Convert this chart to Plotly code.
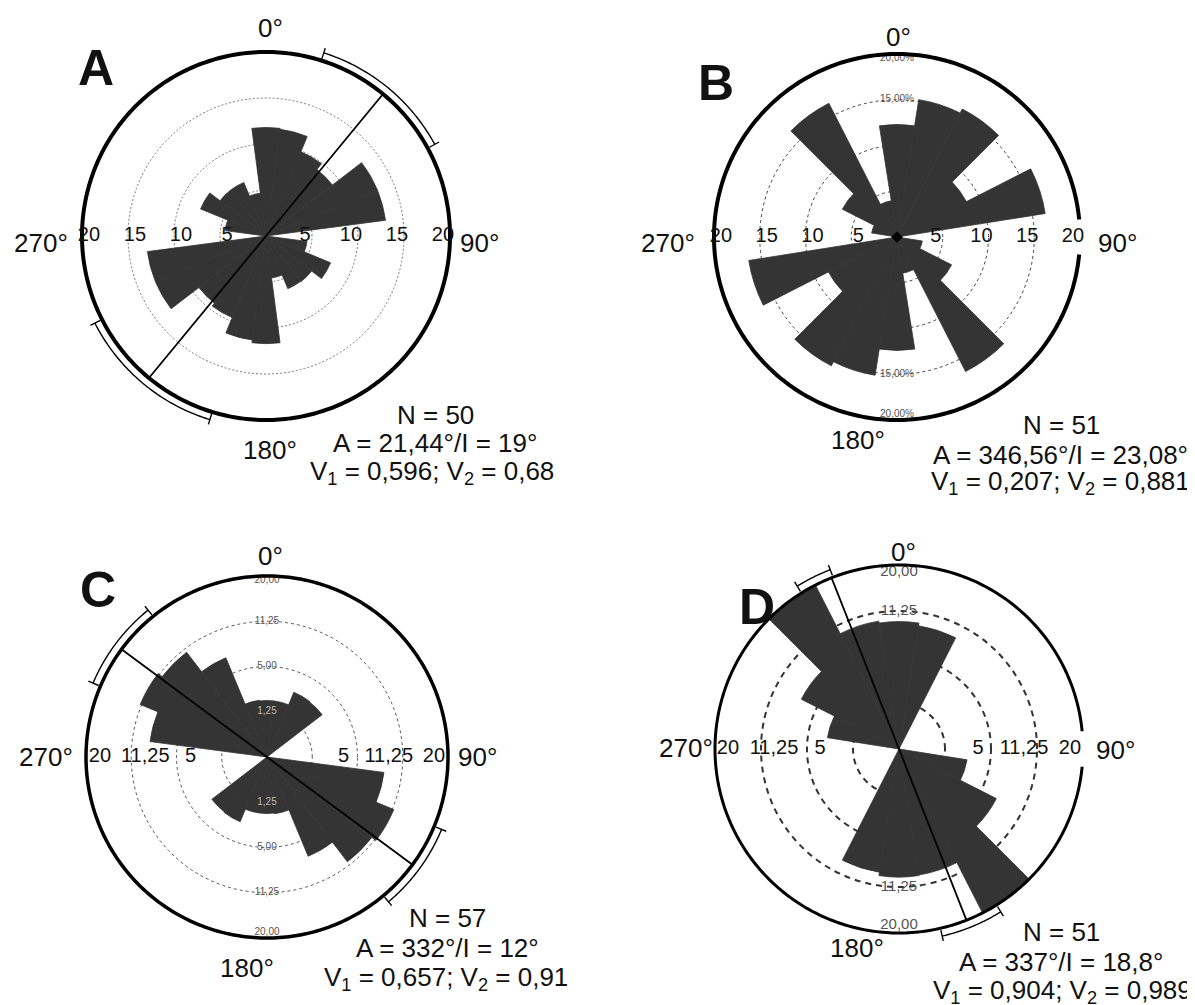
import numpy as np
import plotly.graph_objects as go

W, H = 1195, 1005          # screenshot size
OFF = 8                    # default page margin in front of the figure
FIG_W, FIG_H = W - OFF, H - OFF
FONT = "Liberation Sans, Arial, Helvetica, sans-serif"
BAR_COLOR = "#343434"

# ---------------- data ----------------
# Panel A : 15° classes, linear radial scale (%)
A_theta = [0, 15, 30, 45, 60, 75, 90, 105, 120, 135, 150, 165,
           180, 195, 210, 225, 240, 255, 270, 285, 300, 315, 330, 345]
A_r = [11.8, 11.7, 9.9, 9.1, 13.1, 13.1, 0.0, 4.5, 7.6, 6.25, 6.2, 4.6,
       11.7, 11.4, 9.6, 9.2, 13.0, 13.0, 0.0, 4.5, 7.7, 6.3, 6.3, 4.7]
A_width = 15
A_axis = 39.5
A_arcs = [(17.5, 61.5), (197.0, 243.0)]
A_rings = [5, 10, 15]
A_hticks = [5, 10, 15, 20]
A_htext = ["5", "10", "15", "20"]
A_stats = ["N = 50", "A = 21,44°/I = 19°",
           "V<sub>1</sub> = 0,596; V<sub>2</sub> = 0,68"]

# Panel B : 18° classes, linear radial scale (%)
B_theta = [0, 18, 36, 54, 72, 90, 108, 126, 144, 162,
           180, 198, 216, 234, 252, 270, 288, 306, 324, 342]
B_r = [12.3, 15.2, 15.7, 8.5, 16.4, 0.0, 2.8, 6.7, 16.5, 4.0,
       12.4, 15.3, 15.8, 8.4, 16.4, 0.0, 2.8, 6.7, 16.4, 4.0]
B_width = 18
B_rings = [5, 10, 15]
B_hticks = [5, 10, 15, 20]
B_htext = ["5", "10", "15", "20"]
B_ring_vals = [15, 20]
B_ring_text = ["15,00%", "20,00%"]
B_stats = ["N = 51", "A = 346,56°/I = 23,08°",
           "V<sub>1</sub> = 0,207; V<sub>2</sub> = 0,881"]

# Panel C : 15° classes, equal-area (square-root) radial scale
C_theta = A_theta
C_r = [1.95, 1.95, 3.0, 2.95, 0.0, 0.0, 0.0, 8.5, 11.5, 10.65, 7.05, 2.0,
       1.95, 1.95, 3.0, 2.95, 0.0, 0.0, 0.0, 8.5, 11.5, 10.65, 7.05, 2.0]
C_width = 15
C_axis = 306.5
C_arcs = [(293.0, 321.0), (112.5, 140.0)]
C_rings = [1.25, 5, 11.25]
C_hticks = [5, 11.25, 20]
C_htext = ["5", "11,25", "20"]
C_ring_vals = [1.25, 5, 11.25, 20]
C_ring_text = ["1,25", "5,00", "11,25", "20,00"]
C_stats = ["N = 57", "A = 332°/I = 12°",
           "V<sub>1</sub> = 0,657; V<sub>2</sub> = 0,91"]

# Panel D : 18° classes, equal-area (square-root) radial scale
D_theta = B_theta
D_r = [9.6, 9.2, 0.0, 0.0, 0.0, 0.0, 2.8, 7.05, 19.8, 9.6,
       9.7, 9.2, 0.0, 0.0, 0.0, 0.0, 3.1, 7.1, 19.8, 9.9]
D_width = 18
D_axis = 338.5
D_arcs = [(328.0, 339.0), (148.0, 167.0)]
D_rings = [1.25, 5, 11.25]
D_hticks = [5, 11.25, 20]
D_htext = ["5", "11,25", "20"]
D_ring_vals = [11.25, 20]
D_ring_text = ["11,25", "20,00"]
D_stats = ["N = 51", "A = 337°/I = 18,8°",
           "V<sub>1</sub> = 0,904; V<sub>2</sub> = 0,989"]

R_MAX = 20
# -------------------------------------

panels = [
    dict(name="polar", letter="A", cx=266, cy=236, R=184, sqrt=False,
         theta=A_theta, r=A_r, width=A_width, axis=A_axis, arcs=A_arcs,
         rings=A_rings, hticks=A_hticks, htext=A_htext, hshift=7,
         ring_vals=None, ring_text=None, ring_font=9,
         griddash="2px,2px", gridcolor="#777", gridwidth=1, circle_w=4,
         gap=False,
         stats=A_stats, stats_xy=[(435, 415), (435, 443), (432, 472)],
         letter_xy=(96, 68),
         deg_xy=[(270, 28), (479, 243), (270, 450), (41, 243)], diamond=False),
    dict(name="polar2", letter="B", cx=897, cy=237, R=183, sqrt=False,
         theta=B_theta, r=B_r, width=B_width, axis=None, arcs=[],
         rings=B_rings, hticks=B_hticks, htext=B_htext, hshift=7,
         ring_vals=B_ring_vals, ring_text=B_ring_text, ring_font=10,
         griddash="3px,3px", gridcolor="#444", gridwidth=1, circle_w=4,
         gap=True,
         stats=B_stats, stats_xy=[(1061, 425), (1060, 455), (1060, 483)],
         letter_xy=(716, 83),
         deg_xy=[(898, 37), (1117, 243), (858, 440), (668, 243)], diamond=True),
    dict(name="polar3", letter="C", cx=267, cy=757, R=181, sqrt=True,
         theta=C_theta, r=C_r, width=C_width, axis=C_axis, arcs=C_arcs,
         rings=C_rings, hticks=C_hticks, htext=C_htext, hshift=14,
         ring_vals=C_ring_vals, ring_text=C_ring_text, ring_font=10,
         griddash="3px,3px", gridcolor="#555", gridwidth=1, circle_w=3.5,
         gap=False,
         stats=C_stats, stats_xy=[(447, 918), (447, 948), (446, 978)],
         letter_xy=(98, 590),
         deg_xy=[(270, 556), (477, 757), (247, 968), (46, 757)], diamond=False),
    dict(name="polar4", letter="D", cx=899, cy=749, R=184, sqrt=True,
         theta=D_theta, r=D_r, width=D_width, axis=D_axis, arcs=D_arcs,
         rings=D_rings, hticks=D_hticks, htext=D_htext, hshift=13,
         ring_vals=D_ring_vals, ring_text=D_ring_text, ring_font=15,
         griddash="6px,5px", gridcolor="#333", gridwidth=2, circle_w=3,
         gap=True,
         stats=D_stats, stats_xy=[(1061, 932), (1061, 962), (1062, 991)],
         letter_xy=(757, 607),
         deg_xy=[(903, 552), (1115, 750), (857, 948), (686, 748)], diamond=False),
]

K = 1.09  # polar radius relative to the r=20 circle

fig = go.Figure()
layout_polars = {}
annotations = []


def px_x(x):
    return (x - OFF) / FIG_W


def px_y(y):
    return 1 - (y - OFF) / FIG_H


for p in panels:
    tf = (lambda v: np.sqrt(np.asarray(v, dtype=float))) if p["sqrt"] else \
        (lambda v: np.asarray(v, dtype=float))
    rout = float(tf([R_MAX])[0])
    unit = rout / p["R"]          # radial units per screen pixel
    sub = p["name"]

    # rose bars
    fig.add_trace(go.Barpolar(
        r=tf(p["r"]), theta=p["theta"], width=[p["width"]] * len(p["theta"]),
        marker=dict(color=BAR_COLOR, line=dict(width=0.8, color=BAR_COLOR)),
        subplot=sub, showlegend=False, hoverinfo="skip"))

    # small ring labels along the N-S direction
    if p["ring_vals"]:
        th, rr, tx, pos, col = [], [], [], [], []
        for v, t in zip(p["ring_vals"], p["ring_text"]):
            outer = (v == R_MAX)
            th += [0, 180]
            rr += [float(tf([v])[0])] * 2
            tx += [t, t]
            pos += (["bottom center", "top center"] if outer
                    else ["middle center", "middle center"])
            col += ["#bbbbbb" if v < 2 else "#555555"] * 2
        fig.add_trace(go.Scatterpolar(
            r=rr, theta=th, text=tx, mode="text", textposition=pos,
            textfont=dict(family=FONT, size=p["ring_font"], color=col),
            subplot=sub, showlegend=False, hoverinfo="skip"))

    # preferred-orientation axis
    if p["axis"] is not None:
        a = p["axis"]
        fig.add_trace(go.Scatterpolar(
            r=[rout, 0, rout], theta=[a, a, a + 180], mode="lines",
            line=dict(color="black", width=1.8),
            subplot=sub, showlegend=False, hoverinfo="skip"))

    # confidence brackets outside the circle
    for (s, e) in p["arcs"]:
        th_arc = np.linspace(s, e, 60)
        fig.add_trace(go.Scatterpolar(
            r=np.full(th_arc.shape, rout + 8 * unit), theta=th_arc,
            mode="lines", line=dict(color="black", width=1.4),
            subplot=sub, showlegend=False, hoverinfo="skip"))
        r_in, r_out = rout + 2 * unit, rout + 13 * unit
        fig.add_trace(go.Scatterpolar(
            r=[r_in, r_out, None, r_in, r_out],
            theta=[s, s, None, e, e], mode="lines",
            line=dict(color="black", width=1.4),
            subplot=sub, showlegend=False, hoverinfo="skip"))

    # outer circle
    th_c = np.linspace(0, 360, 361)
    fig.add_trace(go.Scatterpolar(
        r=np.full(th_c.shape, rout), theta=th_c, mode="lines",
        line=dict(color="black", width=p["circle_w"]),
        subplot=sub, showlegend=False, hoverinfo="skip"))

    # white break of the circle behind the "20" scale label at 90°
    if p["gap"]:
        th_g = np.linspace(84.5, 95.5, 12)
        fig.add_trace(go.Scatterpolar(
            r=np.full(th_g.shape, rout), theta=th_g, mode="lines",
            line=dict(color="white", width=p["circle_w"] + 3),
            subplot=sub, showlegend=False, hoverinfo="skip"))

    if p["diamond"]:
        fig.add_trace(go.Scatterpolar(
            r=[0], theta=[0], mode="markers",
            marker=dict(symbol="diamond", size=9, color="black"),
            subplot=sub, showlegend=False, hoverinfo="skip"))

    # scale labels on the E-W line (slightly inside their ring)
    hv = tf(p["hticks"]) - p["hshift"] * unit
    for ang in (90, 270):
        fig.add_trace(go.Scatterpolar(
            r=hv, theta=[ang] * len(hv), text=p["htext"], mode="text",
            textposition="middle center",
            textfont=dict(family=FONT, size=20, color="#111"),
            subplot=sub, showlegend=False, hoverinfo="skip", cliponaxis=False))

    half = K * p["R"]
    layout_polars[sub] = dict(
        domain=dict(x=[px_x(p["cx"] - half), px_x(p["cx"] + half)],
                    y=[px_y(p["cy"] + half), px_y(p["cy"] - half)]),
        bgcolor="white",
        radialaxis=dict(range=[0, rout * K], tickvals=list(tf(p["rings"])),
                        showticklabels=False, ticks="", showline=False,
                        showgrid=True, gridcolor=p["gridcolor"],
                        gridwidth=p["gridwidth"], griddash=p["griddash"]),
        angularaxis=dict(rotation=90, direction="clockwise",
                         tickvals=[0, 90, 180, 270], showticklabels=False,
                         ticks="", showline=False, showgrid=False),
    )

    # orientation labels
    for (x, y), t in zip(p["deg_xy"], ["0°", "90°", "180°", "270°"]):
        annotations.append(dict(
            x=px_x(x), y=px_y(y), xref="paper", yref="paper", text=t,
            showarrow=False, xanchor="center", yanchor="middle",
            font=dict(family=FONT, size=26, color="#111")))

    # statistics
    for (x, y), t in zip(p["stats_xy"], p["stats"]):
        annotations.append(dict(
            x=px_x(x), y=px_y(y), xref="paper", yref="paper", text=t,
            showarrow=False, xanchor="center", yanchor="middle",
            font=dict(family=FONT, size=26, color="#111")))

    # panel letter
    lx, ly = p["letter_xy"]
    annotations.append(dict(
        x=px_x(lx), y=px_y(ly), xref="paper", yref="paper",
        text="<b>%s</b>" % p["letter"], showarrow=False,
        xanchor="center", yanchor="middle",
        font=dict(family=FONT, size=50, color="#111")))

fig.update_layout(
    width=FIG_W, height=FIG_H, margin=dict(l=0, r=0, t=0, b=0),
    paper_bgcolor="white", plot_bgcolor="white", showlegend=False,
    annotations=annotations, **layout_polars)

fig.write_html("out.html")
